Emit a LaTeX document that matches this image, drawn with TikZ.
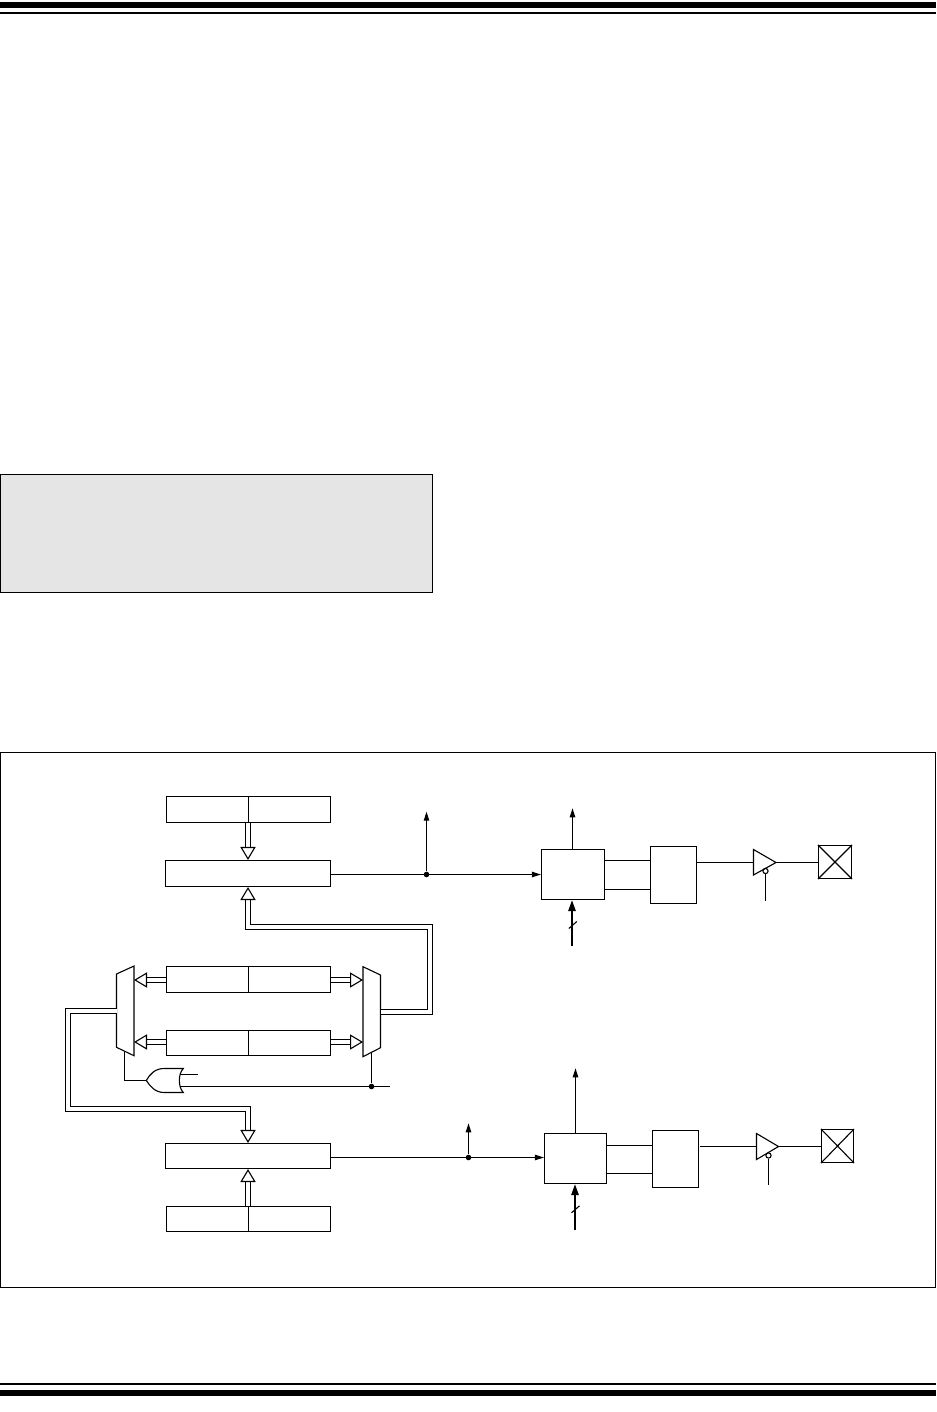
\documentclass[tikz,border=0pt]{standalone}
\usetikzlibrary{arrows.meta}
\tikzset{
  regbox/.style={draw,inner sep=0,minimum width=82pt,minimum height=13pt},
  pwmbox/.style={draw,inner sep=0,minimum width=31.5pt,minimum height=25pt},
  drvbox/.style={draw,inner sep=0,minimum width=23pt,minimum height=28.5pt},
  padbox/.style={draw,inner sep=0,minimum width=16.5pt,minimum height=16.5pt},
  notdot/.style={draw,circle,inner sep=0,minimum size=2.6pt},
  joindot/.style={fill,circle,inner sep=0,minimum size=2.8pt},
  sigline/.style={-{Triangle[length=4.5pt,width=2.7pt]}},
  thicksig/.style={line width=1pt,-{Triangle[length=5.5pt,width=3.6pt]}},
  busline/.style={double,double distance=1.95pt,-{Triangle[fill=white,length=6.5pt,width=7.6pt,line width=0.55pt 0 0]}},
}
\begin{document}
\begin{tikzpicture}[x=0.5pt,y=-0.5pt,line width=0.55pt]
  \useasboundingbox (0,0) rectangle (936,1412);
  \fill[black] (0,2) rectangle (936,8);
  \fill[black] (0,12) rectangle (936,14);
  \fill[black] (0,1383) rectangle (936,1385);
  \fill[black] (0,1390) rectangle (936,1396);
  \draw[fill=black!10,line width=0.6pt] (0.5,474.5) rectangle (432.5,592.5);
  \draw[line width=0.6pt] (0.5,752.5) rectangle (935.5,1287.5);

  \node[regbox] (regA) at (248.5,809.5) {};
  \node[regbox,minimum width=82.5pt] (cmpA) at (248,873.5) {};
  \node[regbox] (regU) at (248.5,979.5) {};
  \node[regbox,minimum height=12.5pt] (regL) at (248.5,1043) {};
  \node[regbox,minimum width=82.5pt,minimum height=12.5pt] (cmpB) at (248,1156) {};
  \node[regbox,minimum height=12.5pt] (regD) at (248.5,1219) {};
  \foreach \r in {regA,regU,regL,regD}
    \draw (\r.north) -- (\r.south);

  \draw (116.5,974) -- (134,966) -- (134,1055.7) -- (116.5,1047.3) -- cycle;
  \draw (363,966.7) -- (380.5,975) -- (380.5,1047.7) -- (363,1056.7) -- cycle;
  \coordinate (muxLw) at (116.5,1011);
  \coordinate (muxLe) at (134,1011);
  \coordinate (muxLs) at (124.5,1051.4);
  \coordinate (muxRw) at (363,1012);
  \coordinate (muxRe) at (380.5,1012);
  \coordinate (muxRs) at (371.5,1052.2);

  \draw[busline] (regA.south -| cmpA.north) -- (cmpA.north);
  \draw[busline] (regD.north -| cmpB.south) -- (cmpB.south);
  \draw[busline] ([yshift=-0.25pt]regU.west) -- ([yshift=-0.25pt]regU.west -| muxLe);
  \draw[busline] ([yshift=0.5pt]regL.west) -- ([yshift=0.5pt]regL.west -| muxLe);
  \draw[busline] ([yshift=-0.25pt]regU.east) -- ([yshift=-0.25pt]regU.east -| muxRw);
  \draw[busline] ([yshift=0.5pt]regL.east) -- ([yshift=0.5pt]regL.east -| muxRw);
  \coordinate (busR) at (430,927);
  \coordinate (busL) at (68,1109);
  \draw[busline] (muxRe) -| (busR) -| (cmpA.south);
  \draw[busline] (muxLw) -| (busL) -| (cmpB.north);

  \draw (146.3,1080.5) coordinate (orTip) .. controls (150,1074) and (155,1068.5) .. (164,1068.5) -- (183.3,1068.5)
    .. controls (178,1074) and (178,1087) .. (183.3,1092.5) -- (164,1092.5)
    .. controls (155,1092.5) and (150,1086) .. (146.3,1080.5);
  \coordinate (orInA) at (179.8,1074.5);
  \coordinate (orInB) at (179.8,1086.5);
  \coordinate (selA) at (198,1074.5);
  \coordinate (selB) at (390,1086.5);
  \node[joindot] (dotS) at (371.5,1086.5) {};
  \draw (orInA) -- (selA);
  \draw (orInB) -- (selB);
  \draw (muxRs) -- (dotS);
  \draw (muxLs) |- (orTip);

  \node[pwmbox] (pwmA) at (573,874.5) {};
  \node[drvbox] (drvA) at (673.5,875) {};
  \node[notdot] (notA) at (765.5,871) {};
  \node[padbox] (padA) at (835,862) {};
  \node[joindot] (dotA) at (426.5,874.5) {};
  \draw (753.5,849.5) -- (776,862.5) coordinate (bufAo) -- (753.5,875) -- cycle;
  \coordinate (bufAi) at (753.5,862.5);
  \coordinate (tapA) at (426.5,811.7);
  \coordinate (outA) at (572.5,808.3);
  \coordinate (inA) at (572,945.7);
  \coordinate (slashA) at (572.8,925);
  \coordinate (enA) at (765.5,900.5);
  \draw[sigline] (cmpA.east |- pwmA.west) -- (pwmA.west);
  \draw[sigline] (dotA) -- (tapA);
  \draw[sigline] (outA |- pwmA.north) -- (outA);
  \draw[thicksig] (inA) -- (inA |- pwmA.south);
  \draw ([shift={(-4,3.5)}]slashA) -- ([shift={(4,-3.5)}]slashA);
  \draw ([yshift=7pt]pwmA.east) -- ([yshift=7pt]pwmA.east -| drvA.west);
  \draw ([yshift=-7.5pt]pwmA.east) -- ([yshift=-7.5pt]pwmA.east -| drvA.west);
  \draw (bufAi -| drvA.east) -- (bufAi);
  \draw (bufAo) -- (bufAo -| padA.west);
  \draw (notA.south) -- (enA);

  \node[pwmbox,minimum width=31pt] (pwmB) at (575.5,1158.5) {};
  \node[drvbox] (drvB) at (675.5,1159) {};
  \node[notdot] (notB) at (768.5,1155.5) {};
  \node[padbox,minimum width=16pt] (padB) at (837.5,1146) {};
  \node[joindot] (dotB) at (468.5,1157.5) {};
  \draw (756.5,1133.5) -- (778.5,1146.5) coordinate (bufBo) -- (756.5,1159.5) -- cycle;
  \coordinate (bufBi) at (756.5,1146.5);
  \coordinate (tapB) at (468.5,1123.3);
  \coordinate (outB) at (575.5,1068.3);
  \coordinate (inB) at (575,1229.7);
  \coordinate (slashB) at (575.5,1209.3);
  \coordinate (enB) at (768.5,1184.5);
  \draw[sigline] (cmpB.east |- dotB) -- (dotB -| pwmB.west);
  \draw[sigline] (dotB) -- (tapB);
  \draw[sigline] (pwmB.north) -- (outB);
  \draw[thicksig] (inB) -- (inB |- pwmB.south);
  \draw ([shift={(-4,3.5)}]slashB) -- ([shift={(4,-3.5)}]slashB);
  \draw ([yshift=6.5pt]pwmB.east) -- ([yshift=6.5pt]pwmB.east -| drvB.west);
  \draw ([yshift=-7.5pt]pwmB.east) -- ([yshift=-7.5pt]pwmB.east -| drvB.west);
  \draw[shorten <=0.7pt] (bufBi -| drvB.east) -- (bufBi);
  \draw (bufBo) -- (bufBo -| padB.west);
  \draw (notB.south) -- (enB);

  \foreach \p in {padA,padB}
    \draw (\p.north west) -- (\p.south east) (\p.north east) -- (\p.south west);
\end{tikzpicture}
\end{document}
